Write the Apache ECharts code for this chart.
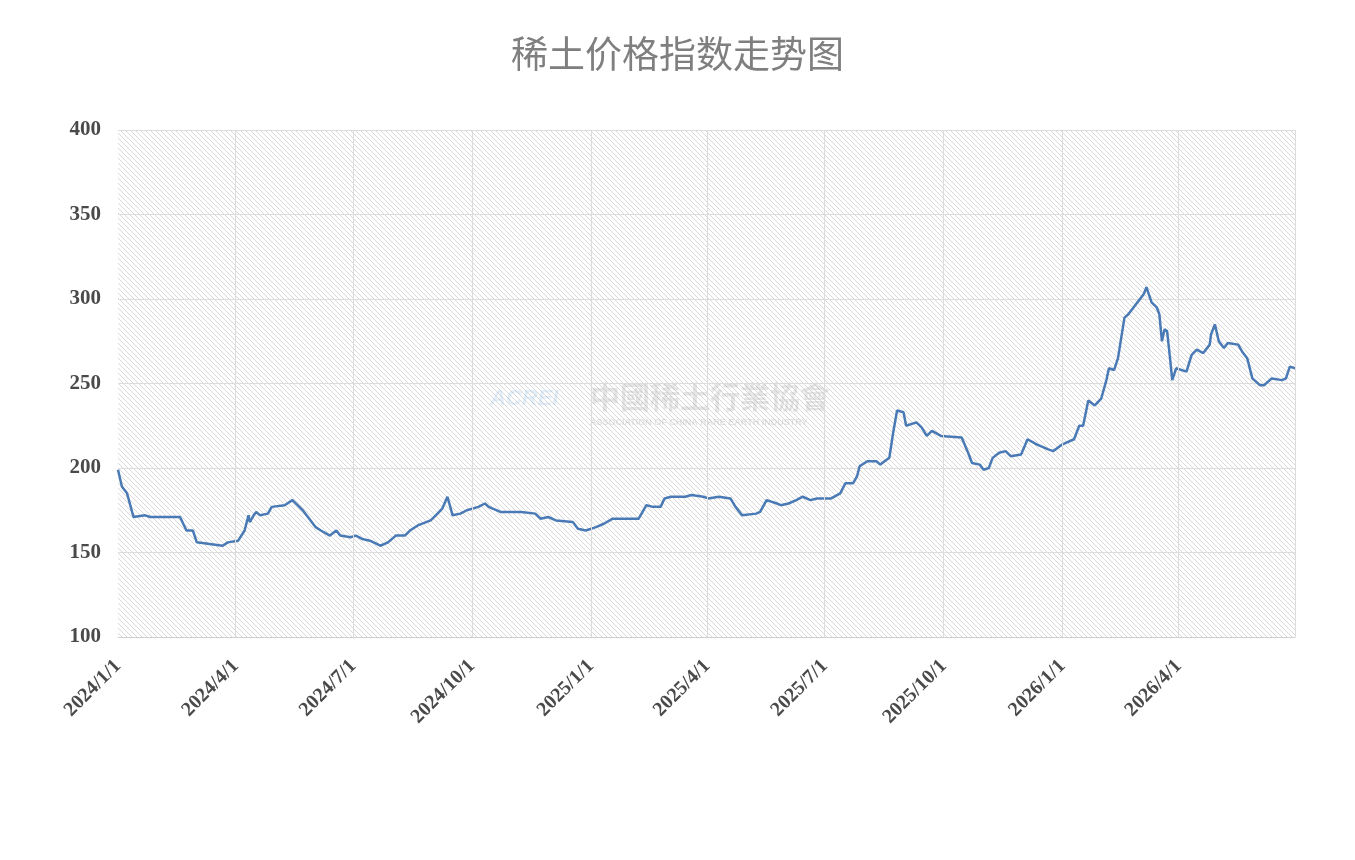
<!DOCTYPE html>
<html><head><meta charset="utf-8">
<script src="https://cdn.jsdelivr.net/npm/echarts@6/dist/echarts.min.js"></script>
<style>html,body{margin:0;padding:0;background:#fff}#c{width:1355px;height:860px}</style>
</head><body><div id="c"></div>
<script>
const dates = ['2024-01-01','2024-01-04','2024-01-08','2024-01-13','2024-01-22','2024-01-26','2024-02-18','2024-02-23','2024-02-28','2024-03-02','2024-03-12','2024-03-22','2024-03-26','2024-04-03','2024-04-08','2024-04-11','2024-04-12','2024-04-15','2024-04-17','2024-04-20','2024-04-26','2024-04-29','2024-05-09','2024-05-15','2024-05-19','2024-05-23','2024-05-27','2024-06-02','2024-06-06','2024-06-13','2024-06-18','2024-06-21','2024-06-29','2024-07-03','2024-07-08','2024-07-14','2024-07-22','2024-07-28','2024-08-03','2024-08-10','2024-08-14','2024-08-20','2024-08-30','2024-09-03','2024-09-08','2024-09-12','2024-09-16','2024-09-22','2024-09-27','2024-10-06','2024-10-11','2024-10-14','2024-10-17','2024-10-23','2024-11-08','2024-11-19','2024-11-23','2024-11-29','2024-12-05','2024-12-18','2024-12-22','2024-12-28','2025-01-05','2025-01-11','2025-01-18','2025-02-07','2025-02-13','2025-02-18','2025-02-24','2025-02-27','2025-03-04','2025-03-15','2025-03-20','2025-03-29','2025-04-02','2025-04-10','2025-04-19','2025-04-23','2025-04-28','2025-05-09','2025-05-12','2025-05-17','2025-05-25','2025-05-28','2025-06-03','2025-06-09','2025-06-14','2025-06-20','2025-06-25','2025-07-06','2025-07-13','2025-07-17','2025-07-23','2025-07-26','2025-07-28','2025-08-03','2025-08-10','2025-08-13','2025-08-20','2025-08-23','2025-08-26','2025-08-31','2025-09-02','2025-09-10','2025-09-14','2025-09-18','2025-09-22','2025-09-29','2025-10-15','2025-10-20','2025-10-23','2025-10-29','2025-11-01','2025-11-05','2025-11-08','2025-11-13','2025-11-18','2025-11-22','2025-11-30','2025-12-05','2025-12-12','2025-12-21','2025-12-25','2026-01-01','2026-01-10','2026-01-14','2026-01-17','2026-01-21','2026-01-26','2026-01-31','2026-02-04','2026-02-06','2026-02-10','2026-02-13','2026-02-18','2026-02-21','2026-03-05','2026-03-07','2026-03-11','2026-03-15','2026-03-17','2026-03-19','2026-03-21','2026-03-23','2026-03-25','2026-03-27','2026-03-30','2026-04-07','2026-04-11','2026-04-15','2026-04-20','2026-04-25','2026-04-26','2026-04-29','2026-05-02','2026-05-06','2026-05-09','2026-05-17','2026-05-20','2026-05-24','2026-05-28','2026-06-03','2026-06-06','2026-06-12','2026-06-20','2026-06-23','2026-06-26','2026-06-30'];
const values = [199,189,185,171,172,171,171,163,163,156,155,154,156,157,163,172,168,172,174,172,173,177,178,181,178,175,171,165,163,160,163,160,159,160,158,157,154,156,160,160,163,166,169,172,176,183,172,173,175,177,179,177,176,174,174,173,170,171,169,168,164,163,165,167,170,170,178,177,177,182,183,183,184,183,182,183,182,177,172,173,174,181,179,178,179,181,183,181,182,182,185,191,191,195,201,204,204,202,206,221,234,233,225,227,224,219,222,219,218,209,203,202,199,200,206,209,210,207,208,217,214,211,210,214,217,225,225,240,237,241,252,259,258,265,289,291,303,307,298,295,291,275,282,281,267,252,259,257,267,270,268,273,279,285,275,271,274,273,269,265,253,249,249,253,252,253,260,259];
const quarterTicks = ['2024-01-01','2024-04-01','2024-07-01','2024-10-01','2025-01-01','2025-04-01','2025-07-01','2025-10-01','2026-01-01','2026-04-01'];
const yTicks = [100,150,200,250,300,350,400];

const pc = document.createElement('canvas'); pc.width = 5; pc.height = 5;
const g = pc.getContext('2d'); g.fillStyle='#fff'; g.fillRect(0,0,5,5);
g.strokeStyle = '#d9d9d9'; g.lineWidth = 1;
g.beginPath(); g.moveTo(-1,-1); g.lineTo(6,6); g.moveTo(-1,4); g.lineTo(1,6); g.moveTo(4,-1); g.lineTo(6,1); g.stroke();

const ts = s => { const p = s.split('-'); return Date.UTC(+p[0], +p[1]-1, +p[2]); };
const serif = '"Liberation Serif","DejaVu Serif",serif';
const chart = echarts.init(document.getElementById('c'));
chart.setOption({
  animation:false,
  title:{text:'稀土价格指数走势图',left:'center',top:30,textStyle:{fontFamily:'"Noto Sans CJK SC"',fontSize:37,fontWeight:'normal',color:'#7f7f7f'}},
  grid:{left:118,right:60,top:130,bottom:223,show:true,borderWidth:0,backgroundColor:{image:pc,repeat:'repeat'}},
  graphic:[
    {type:'text',left:590,top:382,silent:true,style:{text:'中國稀土行業協會',fill:'rgba(160,160,160,0.28)',font:'bold 30px "Noto Sans CJK TC"'}},
    {type:'text',left:590,top:418,silent:true,style:{text:'ASSOCIATION OF CHINA RARE EARTH INDUSTRY',fill:'rgba(160,160,160,0.3)',font:'bold 9px sans-serif'}},
    {type:'text',left:490,top:388,silent:true,style:{text:'ACREI',fill:'rgba(120,170,220,0.2)',font:'bold italic 22px sans-serif'}}
  ],
  xAxis:{type:'value',min:ts('2024-01-01'),max:ts('2026-06-30'),
    axisLine:{show:true,lineStyle:{color:'#d0d0d0'}},
    axisTick:{show:false},
    splitLine:{show:false},
    axisLabel:{customValues:quarterTicks.map(ts),rotate:45,margin:26,fontFamily:serif,fontWeight:'bold',fontSize:20,color:'#4a4a4a',
      formatter:v=>{const d=new Date(v);return d.getUTCFullYear()+'/'+(d.getUTCMonth()+1)+'/'+d.getUTCDate();}}},
  yAxis:{type:'value',min:yTicks[0],max:yTicks[yTicks.length-1],interval:50,
    axisLine:{show:false},axisTick:{show:false},
    splitLine:{lineStyle:{color:'#dcdcdc'}},
    axisLabel:{fontFamily:serif,fontWeight:'bold',fontSize:21,color:'#4a4a4a',margin:17}},
  series:[{type:'line',data:dates.map((d,i)=>[ts(d),values[i]]),showSymbol:false,
    lineStyle:{color:'#4a7ab5',width:2.5},
    markLine:{silent:true,symbol:'none',label:{show:false},lineStyle:{color:'#dcdcdc',type:'solid',width:1},
      data:quarterTicks.slice(1).map(q=>({xAxis:ts(q)})).concat([{xAxis:ts('2026-06-30')}])}}]
});
</script></body></html>
